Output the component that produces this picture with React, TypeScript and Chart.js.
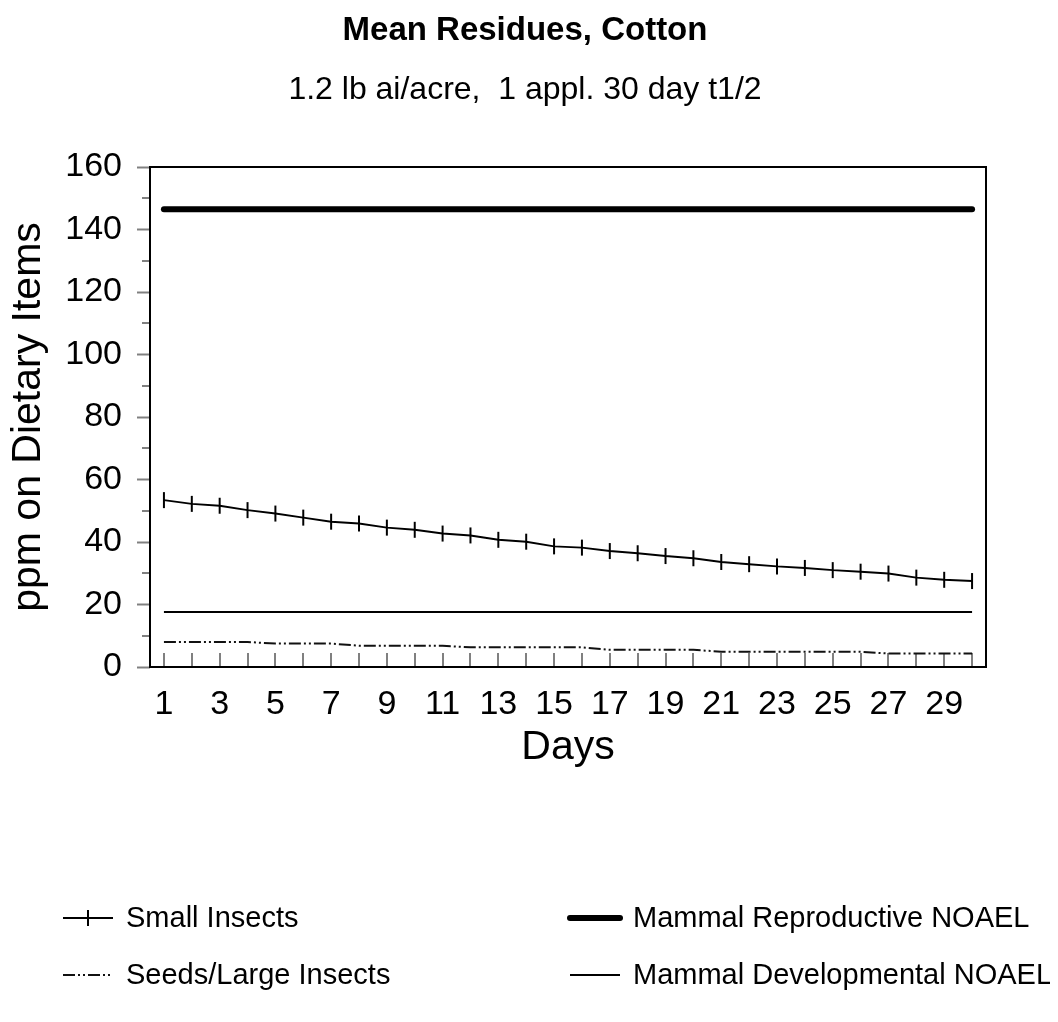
import { useEffect, useRef } from "react";
import { Chart, registerables } from "chart.js";

Chart.register(...registerables);

const FONT = "'Liberation Sans', Arial, Helvetica, sans-serif";

// Days after application
const days = [
  "1", "2", "3", "4", "5", "6", "7", "8", "9", "10",
  "11", "12", "13", "14", "15", "16", "17", "18", "19", "20",
  "21", "22", "23", "24", "25", "26", "27", "28", "29", "30",
];

// Mean residues (ppm) on dietary items
const smallInsects = [
  53.4, 52.2, 51.6, 50.2, 49.1, 47.8, 46.5, 45.9, 44.6, 43.9,
  42.7, 42.1, 40.7, 40.1, 38.6, 38.2, 37.1, 36.4, 35.5, 34.8,
  33.6, 32.9, 32.2, 31.7, 31.0, 30.5, 29.9, 28.6, 27.9, 27.5,
];

const seedsLargeInsects = [
  8.0, 8.0, 8.0, 8.0, 7.5, 7.5, 7.5, 6.8, 6.8, 6.8,
  6.8, 6.3, 6.3, 6.3, 6.3, 6.3, 5.5, 5.5, 5.5, 5.5,
  4.9, 4.9, 4.9, 4.9, 4.9, 4.9, 4.3, 4.3, 4.3, 4.3,
];

// Toxicity thresholds (ppm)
const reproductiveNoael = [
  146.5, 146.5, 146.5, 146.5, 146.5, 146.5, 146.5, 146.5, 146.5, 146.5,
  146.5, 146.5, 146.5, 146.5, 146.5, 146.5, 146.5, 146.5, 146.5, 146.5,
  146.5, 146.5, 146.5, 146.5, 146.5, 146.5, 146.5, 146.5, 146.5, 146.5,
];

const developmentalNoael = [
  17.6, 17.6, 17.6, 17.6, 17.6, 17.6, 17.6, 17.6, 17.6, 17.6,
  17.6, 17.6, 17.6, 17.6, 17.6, 17.6, 17.6, 17.6, 17.6, 17.6,
  17.6, 17.6, 17.6, 17.6, 17.6, 17.6, 17.6, 17.6, 17.6, 17.6,
];

const minorYTicks = [10, 30, 50, 70, 90, 110, 130, 150];

// Legend slots: [column, row] for each dataset, in dataset order
const legendSlots = [
  [0, 0],
  [0, 1],
  [1, 0],
  [1, 1],
];

const TICK_GREY = "#808080";

const decorations = {
  id: "decorations",
  beforeDatasetsDraw(chart: any) {
    const { ctx, chartArea, scales } = chart;
    ctx.save();
    ctx.strokeStyle = TICK_GREY;
    ctx.lineWidth = 2;
    // short minor ticks on the value axis
    for (const v of minorYTicks) {
      const y = Math.round(scales.y.getPixelForValue(v));
      ctx.beginPath();
      ctx.moveTo(chartArea.left - 8, y);
      ctx.lineTo(chartArea.left, y);
      ctx.stroke();
    }
    // category ticks pointing into the plot
    for (let i = 0; i < days.length; i++) {
      const x = Math.round(scales.x.getPixelForValue(i));
      ctx.beginPath();
      ctx.moveTo(x, chartArea.bottom);
      ctx.lineTo(x, chartArea.bottom - 14);
      ctx.stroke();
    }
    ctx.restore();
  },
  afterDatasetsDraw(chart: any) {
    const { ctx, chartArea } = chart;
    ctx.save();
    ctx.strokeStyle = "#000";
    ctx.lineWidth = 2;
    ctx.strokeRect(
      chartArea.left,
      chartArea.top,
      chartArea.right - chartArea.left,
      chartArea.bottom - chartArea.top
    );
    ctx.restore();
  },
  afterDraw(chart: any) {
    const { ctx } = chart;
    const colX = [55, 562];
    const rowY = [910, 967];
    const markerW = 50;
    ctx.save();
    chart.data.datasets.forEach((ds: any, i: number) => {
      const [c, r] = legendSlots[i];
      const x0 = colX[c];
      const y = rowY[r];
      ctx.strokeStyle = ds.borderColor;
      ctx.lineWidth = ds.borderWidth;
      ctx.lineCap = ds.borderCapStyle || "butt";
      ctx.setLineDash(ds.borderDash || []);
      ctx.beginPath();
      ctx.moveTo(x0, y);
      ctx.lineTo(x0 + markerW, y);
      ctx.stroke();
      ctx.setLineDash([]);
      if (ds.pointRadius > 0) {
        ctx.lineWidth = ds.pointBorderWidth;
        ctx.lineCap = "butt";
        ctx.beginPath();
        ctx.moveTo(x0 + markerW / 2, y - ds.pointRadius);
        ctx.lineTo(x0 + markerW / 2, y + ds.pointRadius);
        ctx.stroke();
      }
      ctx.fillStyle = "#000";
      ctx.font = `29px ${FONT}`;
      ctx.textAlign = "left";
      ctx.textBaseline = "middle";
      ctx.fillText(ds.label, x0 + markerW + 13, y + 1);
    });
    ctx.restore();
  },
};

export default function App() {
  const canvasRef = useRef<HTMLCanvasElement | null>(null);

  useEffect(() => {
    const canvas = canvasRef.current;
    if (!canvas) return;
    Chart.defaults.font.family = FONT;
    Chart.defaults.color = "#000";

    const chart = new Chart(canvas, {
      type: "line",
      data: {
        labels: days,
        datasets: [
          {
            label: "Small Insects",
            data: smallInsects,
            borderColor: "#000",
            borderWidth: 2,
            tension: 0,
            pointStyle: "line",
            rotation: 90,
            pointRadius: 8,
            pointBorderWidth: 2,
            pointBorderColor: "#000",
            pointBackgroundColor: "#000",
          },
          {
            label: "Seeds/Large Insects",
            data: seedsLargeInsects,
            borderColor: "#111",
            borderWidth: 2,
            borderDash: [12, 3, 2, 3, 2, 3],
            tension: 0,
            pointRadius: 0,
          },
          {
            label: "Mammal Reproductive NOAEL",
            data: reproductiveNoael,
            borderColor: "#000",
            borderWidth: 6,
            borderCapStyle: "round",
            tension: 0,
            pointRadius: 0,
          },
          {
            label: "Mammal Developmental NOAEL",
            data: developmentalNoael,
            borderColor: "#000",
            borderWidth: 2,
            tension: 0,
            pointRadius: 0,
          },
        ],
      },
      options: {
        responsive: false,
        animation: false,
        devicePixelRatio: 1,
        layout: { padding: { left: 0, right: 8, top: 0, bottom: 237 } },
        plugins: {
          legend: { display: false },
          tooltip: { enabled: false },
          title: {
            display: true,
            text: "Mean Residues, Cotton",
            color: "#000",
            font: { size: 33, weight: "bold", lineHeight: 1.2 },
            padding: { top: 3, bottom: 18 },
          },
          subtitle: {
            display: true,
            text: "1.2 lb ai/acre,  1 appl. 30 day t1/2",
            color: "#000",
            font: { size: 32, lineHeight: 1.2 },
            padding: { top: 2, bottom: 58 },
          },
        },
        scales: {
          x: {
            type: "category",
            offset: true,
            grid: { display: false, drawTicks: false },
            border: { display: false },
            ticks: {
              autoSkip: false,
              maxRotation: 0,
              minRotation: 0,
              padding: 17,
              color: "#000",
              font: { size: 34 },
              callback: (_v: any, i: number) => (i % 2 === 0 ? days[i] : ""),
            },
            title: {
              display: true,
              text: "Days",
              color: "#000",
              font: { size: 41, lineHeight: 1 },
              padding: { top: 0, bottom: 9 },
            },
            afterFit: (s: any) => {
              s.height = 110;
            },
          },
          y: {
            min: 0,
            max: 160,
            grid: {
              display: true,
              drawOnChartArea: false,
              drawTicks: true,
              tickLength: 13,
              tickColor: TICK_GREY,
              tickWidth: 2,
            },
            border: { display: false },
            ticks: {
              stepSize: 20,
              padding: 15,
              color: "#000",
              font: { size: 34 },
            },
            title: {
              display: true,
              text: "ppm on Dietary Items",
              color: "#000",
              font: { size: 41, lineHeight: 1 },
              padding: 0,
            },
            afterFit: (s: any) => {
              s.width = 142;
            },
          },
          // blank right-hand margin beside the plot frame
          yRight: {
            position: "right",
            min: 0,
            max: 160,
            grid: { display: false, drawTicks: false },
            border: { display: false },
            ticks: { display: false },
            afterFit: (s: any) => {
              s.width = 56;
            },
          },
        },
      },
      plugins: [decorations],
    } as any);

    return () => chart.destroy();
  }, []);

  return (
    <canvas
      ref={canvasRef}
      width={1042}
      height={1006}
      style={{ display: "block", width: 1042, height: 1006 }}
    />
  );
}
